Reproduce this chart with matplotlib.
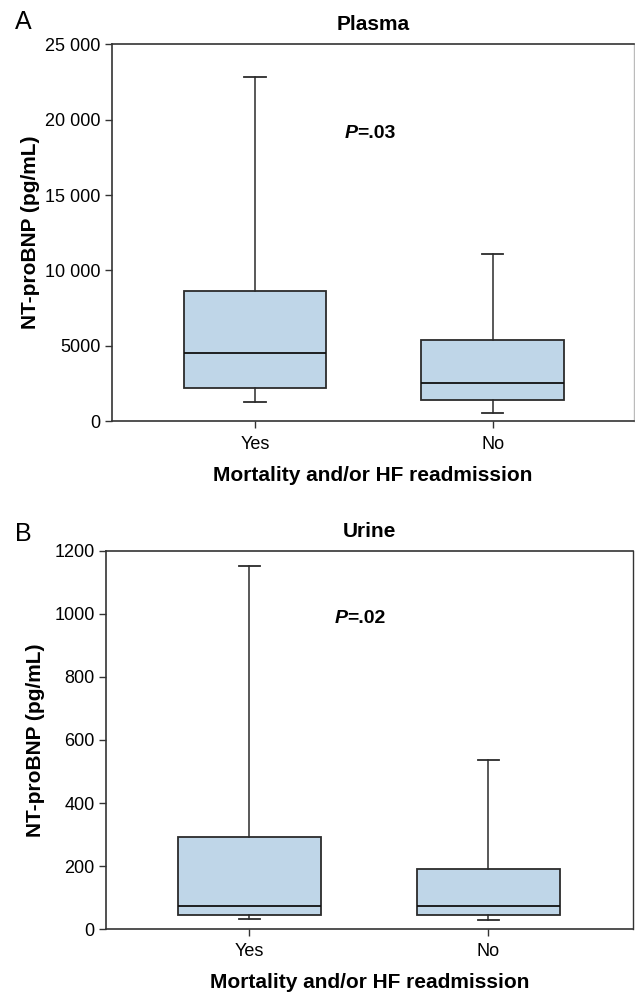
import matplotlib
matplotlib.use("Agg")
import matplotlib.pyplot as plt

plt.rcParams['font.family'] = ['Liberation Sans', 'DejaVu Sans']

groups = ["Yes", "No"]

# Plasma NT-proBNP (pg/mL)
plasma_whislo = [1260, 530]
plasma_q1 = [2170, 1420]
plasma_med = [4530, 2540]
plasma_q3 = [8610, 5370]
plasma_whishi = [22800, 11100]
plasma_ticks = [0, 5000, 10000, 15000, 20000, 25000]
plasma_ticklabels = ["0", "5000", "10 000", "15 000", "20 000", "25 000"]

# Urine NT-proBNP (pg/mL)
urine_whislo = [33, 30]
urine_q1 = [45, 45]
urine_med = [75, 75]
urine_q3 = [292, 191]
urine_whishi = [1150, 535]
urine_ticks = [0, 200, 400, 600, 800, 1000, 1200]
urine_ticklabels = ["0", "200", "400", "600", "800", "1000", "1200"]

box_color = "#bfd6e8"
edge = "#2b2b2b"


def make_stats(lo, q1, med, q3, hi):
    return [dict(whislo=lo[i], q1=q1[i], med=med[i], q3=q3[i], whishi=hi[i],
                 fliers=[], label=groups[i]) for i in range(len(groups))]


fig = plt.figure(figsize=(6.35, 9.92), dpi=100)
axA = fig.add_axes([0.1759, 0.5756, 0.8225, 0.3797])
axB = fig.add_axes([0.1665, 0.0632, 0.8299, 0.3817])


def draw(ax, stats, ticks, ticklabels, ymax, xlim, title, ptext, px, py,
         right_col, xpad, ylpad):
    ax.bxp(stats, positions=[1, 2], widths=0.6, patch_artist=True,
           showfliers=False,
           boxprops=dict(facecolor=box_color, edgecolor=edge, linewidth=1.3),
           medianprops=dict(color="#111111", linewidth=1.3),
           whiskerprops=dict(color=edge, linewidth=1.1),
           capprops=dict(color=edge, linewidth=1.3),
           capwidths=0.09)
    ax.set_xlim(*xlim)
    ax.set_ylim(0, ymax)
    ax.set_yticks(ticks)
    ax.set_yticklabels(ticklabels, fontsize=13)
    ax.set_xticks([1, 2])
    ax.set_xticklabels(groups, fontsize=13)
    ax.tick_params(axis='both', direction='out', length=5, width=1.0, colors="#333333",
                   labelcolor="black", pad=3)
    ax.tick_params(axis='x', pad=xpad)
    for s in ['left', 'bottom', 'top']:
        ax.spines[s].set_color("#333333")
        ax.spines[s].set_linewidth(1.2)
    ax.spines['right'].set_color(right_col)
    ax.spines['right'].set_linewidth(1.0)
    ax.set_title(title, fontsize=15, fontweight='bold', pad=10)
    ax.set_xlabel("Mortality and/or HF readmission", fontsize=15, fontweight='bold',
                  labelpad=9)
    ax.set_ylabel("NT-proBNP (pg/mL)", fontsize=15, fontweight='bold', labelpad=ylpad)
    ax.text(px, py, "P", fontsize=14, fontweight='bold', style='italic',
            ha='right', va='center')
    ax.text(px, py, ptext, fontsize=14, fontweight='bold',
            ha='left', va='center')


draw(axA, make_stats(plasma_whislo, plasma_q1, plasma_med, plasma_q3, plasma_whishi),
     plasma_ticks, plasma_ticklabels, 25000, (0.397, 2.594), "Plasma", "=.03",
     1.43, 19100, "#bbbbbb", 6.0, 4)
draw(axB, make_stats(urine_whislo, urine_q1, urine_med, urine_q3, urine_whishi),
     urine_ticks, urine_ticklabels, 1200, (0.399, 2.604), "Urine", "=.02",
     1.41, 985, "#333333", 5.0, 7)

fig.text(0.024, 0.990, "A", fontsize=18, va='top')
fig.text(0.024, 0.4738, "B", fontsize=18, va='top')

fig.savefig("out.png", dpi=100)
